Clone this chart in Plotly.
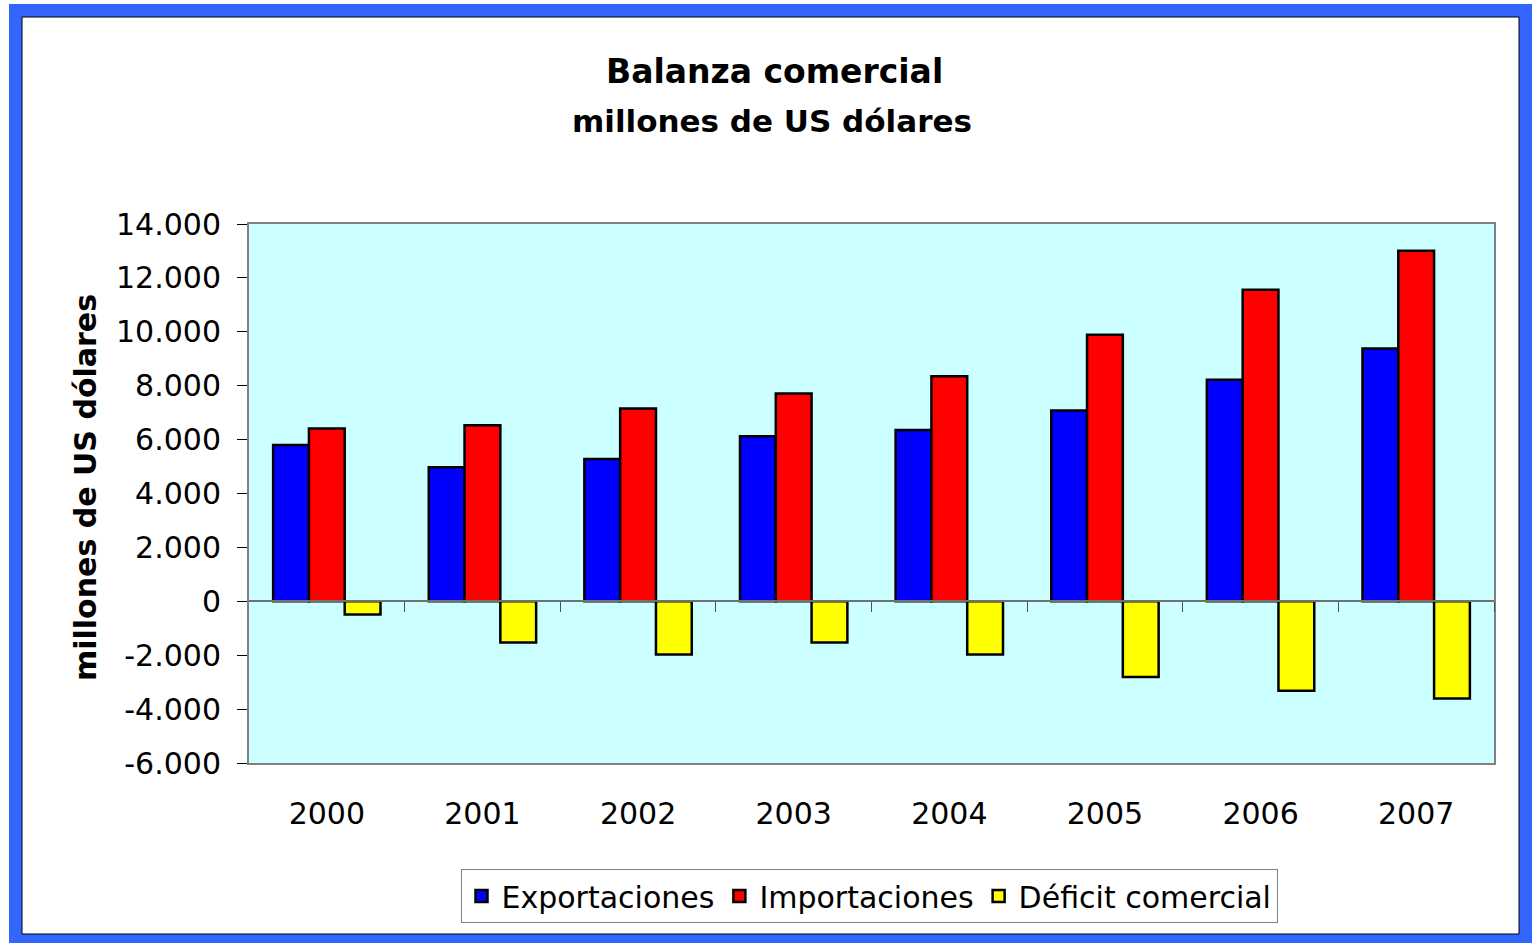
import plotly.graph_objects as go

years = ["2000", "2001", "2002", "2003", "2004", "2005", "2006", "2007"]
exportaciones = [5800, 4970, 5280, 6120, 6360, 7080, 8220, 9380]
importaciones = [6410, 6530, 7150, 7710, 8350, 9890, 11560, 13010]
deficit = [-490, -1530, -1970, -1530, -1970, -2810, -3320, -3610]

y_tickvals = [-6000, -4000, -2000, 0, 2000, 4000, 6000, 8000, 10000, 12000, 14000]
y_ticktext = ["-6.000", "-4.000", "-2.000", "0", "2.000", "4.000", "6.000",
              "8.000", "10.000", "12.000", "14.000"]

W, H = 1532, 943
L, R, T, B = 249, 38, 224, 180
PW, PH = W - L - R, H - T - B


def px(x):
    return (x - L) / PW


def py(y):
    return (H - B - y) / PH


FONT = "DejaVu Sans"

fig = go.Figure()
fig.add_trace(go.Bar(name="Exportaciones", x=years, y=exportaciones,
                     marker=dict(color="#0000FF", line=dict(color="black", width=2.5))))
fig.add_trace(go.Bar(name="Importaciones", x=years, y=importaciones,
                     marker=dict(color="#FF0000", line=dict(color="black", width=2.5))))
fig.add_trace(go.Bar(name="Déficit comercial", x=years, y=deficit,
                     marker=dict(color="#FFFF00", line=dict(color="black", width=2.5))))
# helper axis drawing the zero line with category separators
fig.add_trace(go.Scatter(x=[], y=[], xaxis="x2", yaxis="y", showlegend=False, hoverinfo="skip"))

shapes = [
    dict(type="rect", xref="paper", yref="paper", x0=px(9), x1=px(1560), y0=py(970), y1=py(4),
         fillcolor="#3366FF", line=dict(width=0), layer="below"),
    dict(type="rect", xref="paper", yref="paper", x0=px(22), x1=px(1519), y0=py(934), y1=py(17),
         fillcolor="white", line=dict(color="black", width=1), layer="below"),
    dict(type="rect", xref="paper", yref="paper", x0=0, x1=1, y0=0, y1=1,
         fillcolor="#CCFFFF", line=dict(width=0), layer="below"),
]

annotations = [
    dict(text="<b>Balanza comercial</b>", xref="paper", yref="paper", x=px(774), y=py(72),
         xanchor="center", yanchor="middle", showarrow=False,
         font=dict(family=FONT, size=33, color="black")),
    dict(text="<b>millones de US dólares</b>", xref="paper", yref="paper", x=px(772), y=py(121),
         xanchor="center", yanchor="middle", showarrow=False,
         font=dict(family=FONT, size=31, color="black")),
    dict(text="<b>millones de US dólares</b>", xref="paper", yref="paper", x=px(85), y=py(488),
         xanchor="center", yanchor="middle", showarrow=False, textangle=-90,
         font=dict(family=FONT, size=30, color="black")),
]

fig.update_layout(
    width=W, height=H,
    margin=dict(l=L, r=R, t=T, b=B),
    paper_bgcolor="white",
    plot_bgcolor="rgba(0,0,0,0)",
    font=dict(family=FONT, size=30, color="black"),
    barmode="group", bargap=0.31, bargroupgap=0,
    shapes=shapes,
    annotations=annotations,
    xaxis=dict(type="category", range=[-0.5, 7.5], showline=True, mirror=True,
               linecolor="#808080", linewidth=2, ticks="", showgrid=False,
               tickfont=dict(family=FONT, size=30, color="black"), ticklabelstandoff=23),
    xaxis2=dict(overlaying="x", anchor="free", position=0.3, range=[-0.5, 7.5],
                showline=True, linecolor="#707070", linewidth=2, ticks="outside",
                ticklen=10, tickwidth=1, tickcolor="#505050",
                tickvals=[0.5, 1.5, 2.5, 3.5, 4.5, 5.5, 6.5, 7.5],
                showticklabels=False, showgrid=False, zeroline=False, side="bottom"),
    yaxis=dict(range=[-6000, 14000], tickvals=y_tickvals, ticktext=y_ticktext,
               showline=True, mirror=True, linecolor="#808080", linewidth=2,
               ticks="outside", ticklen=10, tickwidth=1, tickcolor="black",
               showgrid=False, zeroline=False,
               tickfont=dict(family=FONT, size=30, color="black"), ticklabelstandoff=10),
    legend=dict(orientation="h", x=px(869), xanchor="center", y=py(869), yanchor="top",
                bgcolor="white", bordercolor="#808080", borderwidth=1,
                font=dict(family=FONT, size=30, color="black"), traceorder="normal"),
    showlegend=True,
)

fig.write_html("out.html", config={"displayModeBar": False},
               post_script="document.body.style.margin='0';")
